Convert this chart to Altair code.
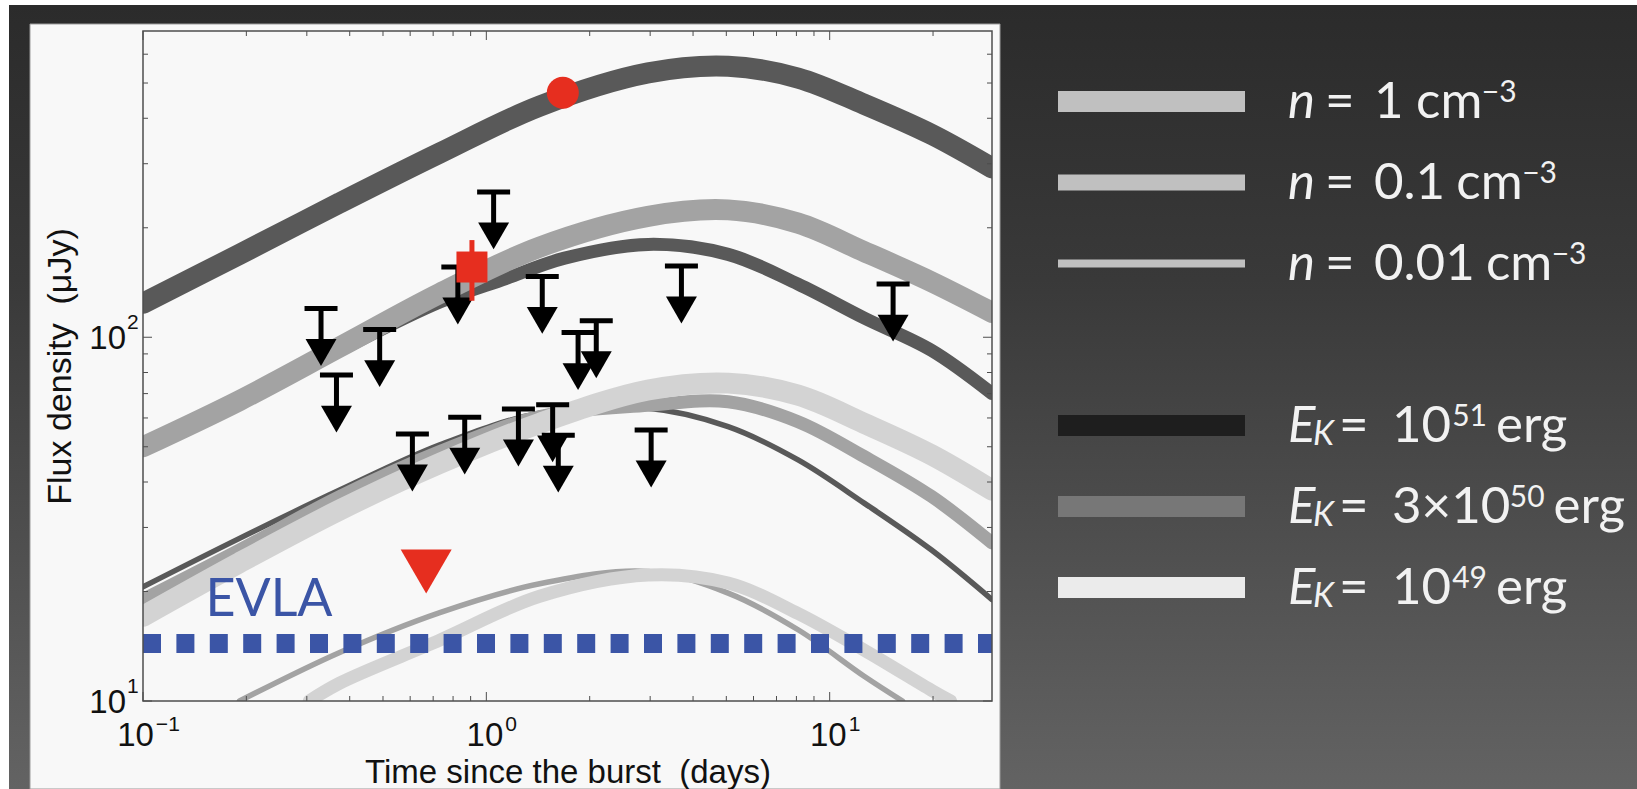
import altair as alt
import pandas as pd

# ------------------------------------------------------------------
# Radio afterglow models: flux density (μJy) vs time since burst (days)
# thickness -> circumburst density n, grey level -> kinetic energy E_K
# ------------------------------------------------------------------
t_grid = [0.1, 0.191, 0.374, 0.732, 1.43, 2.96, 5.06, 8.09, 12.6, 19.8, 29.7]

flux_n1_e51 = [124, 169, 234, 321, 432, 533, 556, 516, 437, 361, 292]
flux_n1_e3x50 = [50, 67, 94, 132, 177, 215, 224, 206, 172, 142, 117]
flux_n1_e49 = [17.1, 24, 33.5, 45, 58, 71.6, 74.8, 69.3, 58, 47.5, 38]

t_n01_e51 = [0.1, 0.191, 0.374, 0.732, 1.14, 1.69, 2.96, 5.06, 8.09, 12.6, 19.8, 29.7]
flux_n01_e51 = [49.5, 66, 92, 125, 145, 165, 180, 169, 140, 113, 92, 70]
flux_n01_e3x50 = [19, 26, 36.5, 48.5, 60.5, 65, 66.5, 58.6, 47, 36.5, 27.2]
t_n01_e49 = [0.305, 0.374, 0.732, 1.43, 2.96, 5.06, 8.09, 12.6, 19.8, 22.5]
flux_n01_e49 = [10, 11.2, 14.7, 19.4, 22.2, 21.1, 17.4, 13.8, 10.7, 10]

flux_n001_e51 = [20.6, 28, 38, 50.6, 61.8, 63.8, 56.8, 46, 35, 26, 19]
t_n001_e3x50 = [0.191, 0.374, 0.732, 1.43, 2.96, 5.06, 8.09, 12.6, 16.3]
flux_n001_e3x50 = [10, 13.6, 17.5, 21, 22.7, 19.8, 15.7, 11.7, 10]

# radio upper limits (3-sigma), days / μJy
limit_t = [0.330, 0.366, 0.489, 0.609, 0.826, 0.865, 1.05, 1.24, 1.455,
           1.56, 1.62, 1.85, 2.09, 3.02, 3.70, 15.3]
limit_f = [120, 78.7, 105, 54.2, 156, 60.3, 251, 63.5, 147,
           65.2, 53.8, 103, 111, 55.6, 157, 140]

# red points
circle_t, circle_f = [1.67], [470]
square_t, square_f, square_lo, square_hi = [0.908], [156], [126], [185]
red_limit_t, red_limit_f = [0.668], [22.7]

# EVLA sensitivity
evla_t = [0.1, 29.7]
evla_level = 14.4
evla_label_t, evla_label_f = 0.152, 17.1

# axes
x_domain = [0.1, 29.7]
y_domain = [10, 695]
x_major = [0.1, 1, 10]
x_major_exp = ["−1", "0", "1"]
x_minor = [0.2, 0.3, 0.4, 0.5, 0.6, 0.7, 0.8, 0.9, 2, 3, 4, 5, 6, 7, 8, 9, 20]
y_major = [10, 100]
y_major_exp = ["1", "2"]
y_minor = [20, 30, 40, 50, 60, 70, 80, 90, 200, 300, 400, 500, 600]

# legend
density_text = ["1", "0.1", "0.01"]
energy_mantissa = ["10", "3×10", "10"]
energy_exponent = ["51", "50", "49"]

# ------------------------------------------------------------------
# styling
# ------------------------------------------------------------------
DARK, MID, LIGHT = "#595959", "#a3a3a3", "#d3d3d3"
THICK, MEDIUM, THIN = 21, 13, 5.5
RED = "#e62e1f"
BLUE = "#3b55a6"
INK = "#111111"
AXIS_FONT = "Liberation Sans, Arial, sans-serif"
SLIDE_FONT = "Lato, Open Sans, sans-serif"
LABEL_SIZE, EXP_SIZE = 33, 21

W, H = 849, 670
PAD = {"left": 143, "top": 31, "right": 1637 - 143 - W, "bottom": 789 - 31 - H}

x_axis = alt.Axis(
    values=x_major, labels=False, ticks=False, tickSize=0, domain=False, grid=False,
    title="Time since the burst\u00a0 (days)", titleFont=AXIS_FONT,
    titleFontSize=33, titleFontWeight="normal", titleColor=INK,
    titleBaseline="alphabetic", titleY=81, zindex=1,
)
y_axis = alt.Axis(
    values=y_major, labels=False, ticks=False, tickSize=0, domain=False, grid=False,
    title="Flux density\u00a0 (μJy)", titleFont=AXIS_FONT,
    titleFontSize=34, titleFontWeight="normal", titleColor=INK,
    titleBaseline="alphabetic", titleAngle=270, titleX=-73, titleY=H / 2, zindex=1,
)

x_scale = alt.Scale(type="log", domain=x_domain, nice=False)
y_scale = alt.Scale(type="log", domain=y_domain, nice=False)


def X(field="t"):
    return alt.X(f"{field}:Q", scale=x_scale, axis=x_axis)


def Y(field="f"):
    return alt.Y(f"{field}:Q", scale=y_scale, axis=y_axis)


# ------------------------------------------------------------------
# model curves (thin ones first so the thick bands sit on top)
# ------------------------------------------------------------------
curves = [
    (t_grid, flux_n001_e51, DARK, THIN),
    (t_n001_e3x50, flux_n001_e3x50, MID, THIN),
    (t_n01_e51, flux_n01_e51, DARK, MEDIUM),
    (t_grid, flux_n01_e3x50, MID, MEDIUM),
    (t_n01_e49, flux_n01_e49, LIGHT, MEDIUM),
    (t_grid, flux_n1_e51, DARK, THICK),
    (t_grid, flux_n1_e3x50, MID, THICK),
    (t_grid, flux_n1_e49, LIGHT, THICK),
]
curve_layers = [
    alt.Chart(pd.DataFrame({"t": ts, "f": fs}))
    .mark_line(color=col, strokeWidth=w, interpolate="catmull-rom", clip=True, strokeCap="round")
    .encode(x=X(), y=Y())
    for ts, fs, col, w in curves
]

evla_line = (
    alt.Chart(pd.DataFrame({"t": [evla_t[0]], "t2": [evla_t[1]], "f": [evla_level]}))
    .mark_rule(color=BLUE, strokeWidth=19, strokeDash=[18, 15.4], strokeCap="butt")
    .encode(x=X(), x2=alt.X2("t2:Q"), y=Y())
)
evla_text = (
    alt.Chart(pd.DataFrame({"t": [evla_label_t], "f": [evla_label_f], "s": ["EVLA"]}))
    .mark_text(font=SLIDE_FONT, fontSize=52, color=BLUE, align="left", baseline="alphabetic")
    .encode(x=X(), y=Y(), text="s:N")
)

limits = pd.DataFrame({"t": limit_t, "f": limit_f})
limit_caps = alt.Chart(limits).mark_tick(
    orient="horizontal", size=33, thickness=5, color="black", opacity=1
).encode(x=X(), y=Y())
limit_shafts = alt.Chart(limits).mark_rule(
    color="black", strokeWidth=5, y2Offset=33
).encode(x=X(), y=Y(), y2=alt.Y2("f:Q"))
limit_heads = alt.Chart(limits).mark_point(
    shape="triangle-down", size=960, filled=True, color="black", opacity=1, yOffset=44
).encode(x=X(), y=Y())

red_limit = alt.Chart(pd.DataFrame({"t": red_limit_t, "f": red_limit_f})).mark_point(
    shape="triangle-down", size=2600, filled=True, color=RED, opacity=1
).encode(x=X(), y=Y())
square_err = alt.Chart(
    pd.DataFrame({"t": square_t, "lo": square_lo, "hi": square_hi})
).mark_rule(color=RED, strokeWidth=5).encode(x=X(), y=Y("lo"), y2=alt.Y2("hi:Q"))
square_pt = alt.Chart(pd.DataFrame({"t": square_t, "f": square_f})).mark_point(
    shape="square", size=960, filled=True, color=RED, opacity=1
).encode(x=X(), y=Y())
circle_pt = alt.Chart(pd.DataFrame({"t": circle_t, "f": circle_f})).mark_point(
    shape="circle", size=1024, filled=True, color=RED, opacity=1
).encode(x=X(), y=Y())

# inward pointing ticks on all four sides of the box
TICK_COLOR = "#4d4d4d"
tick_layers = []
for vals, length in ((x_minor, 5), (x_major, 9)):
    d = pd.DataFrame({"t": vals})
    tick_layers.append(alt.Chart(d).mark_rule(color=TICK_COLOR, strokeWidth=1)
                       .encode(x=X(), y=alt.value(H), y2=alt.value(H - length)))
    tick_layers.append(alt.Chart(d).mark_rule(color=TICK_COLOR, strokeWidth=1)
                       .encode(x=X(), y=alt.value(0), y2=alt.value(length)))
for vals, length in ((y_minor, 5), (y_major, 9)):
    d = pd.DataFrame({"f": vals})
    tick_layers.append(alt.Chart(d).mark_rule(color=TICK_COLOR, strokeWidth=1)
                       .encode(y=Y(), x=alt.value(0), x2=alt.value(length)))
    tick_layers.append(alt.Chart(d).mark_rule(color=TICK_COLOR, strokeWidth=1)
                       .encode(y=Y(), x=alt.value(W), x2=alt.value(W - length)))

# tick labels written as "10" plus a raised exponent
LIB_EM = {"−": 0.584}


def exp_width(s):
    return sum(LIB_EM.get(ch, 0.556) for ch in s) * EXP_SIZE


label_layers = []
for v, e in zip(x_major, x_major_exp):
    d = pd.DataFrame({"t": [v], "s": ["10"], "e": [e]})
    right = 17 - (exp_width(e) - exp_width("0")) / 2
    label_layers.append(alt.Chart(d).mark_text(
        font=AXIS_FONT, fontSize=LABEL_SIZE, color=INK, align="right",
        baseline="alphabetic", dx=right
    ).encode(x=X(), y=alt.value(H + 45), text="s:N"))
    label_layers.append(alt.Chart(d).mark_text(
        font=AXIS_FONT, fontSize=EXP_SIZE, color=INK, align="left",
        baseline="alphabetic", dx=right + 2
    ).encode(x=X(), y=alt.value(H + 30), text="e:N"))
for v, e in zip(y_major, y_major_exp):
    d = pd.DataFrame({"f": [v], "s": ["10"], "e": [e]})
    label_layers.append(alt.Chart(d).mark_text(
        font=AXIS_FONT, fontSize=LABEL_SIZE, color=INK, align="right",
        baseline="alphabetic", dy=11.5
    ).encode(y=Y(), x=alt.value(-17), text="s:N"))
    label_layers.append(alt.Chart(d).mark_text(
        font=AXIS_FONT, fontSize=EXP_SIZE, color=INK, align="left",
        baseline="alphabetic", dy=-8
    ).encode(y=Y(), x=alt.value(-16), text="e:N"))

plot = alt.layer(
    *curve_layers, evla_line, evla_text,
    limit_shafts, limit_caps, limit_heads,
    red_limit, square_err, square_pt, circle_pt,
    *tick_layers, *label_layers,
)

# ------------------------------------------------------------------
# slide background, panel and legend, placed in canvas pixels
# ------------------------------------------------------------------
PX = alt.Scale(domain=[0, 1637], range=[-PAD["left"], 1637 - PAD["left"]], nice=False, zero=False)
PY = alt.Scale(domain=[0, 789], range=[-PAD["top"], 789 - PAD["top"]], nice=False, zero=False)


def box(x0, x1, y0, y1):
    return pd.DataFrame({"x": [x0], "x2": [x1], "y": [y0], "y2": [y1]})


def box_enc(chart):
    return chart.encode(
        x=alt.X("x:Q", scale=PX, axis=None), x2="x2:Q",
        y=alt.Y("y:Q", scale=PY, axis=None), y2="y2:Q",
    )


slide_fill = alt.Gradient(
    gradient="linear",
    stops=[alt.GradientStop(color="#2b2b2b", offset=0),
           alt.GradientStop(color="#393939", offset=0.35),
           alt.GradientStop(color="#636363", offset=1)],
    x1=0, x2=0, y1=0, y2=1,
)
slide_bg = box_enc(alt.Chart(box(9, 1637, 5, 789)).mark_rect(fill=slide_fill))
panel = box_enc(alt.Chart(box(30, 1000, 24, 789)).mark_rect(
    fill="#f8f8f8", stroke="#9b9b9b", strokeWidth=1))
background = alt.layer(slide_bg, panel)

frame = box_enc(alt.Chart(box(PAD["left"], PAD["left"] + W, PAD["top"], PAD["top"] + H))
                .mark_rect(fillOpacity=0, stroke="#4d4d4d", strokeWidth=1.5))

# legend rows
ROW0, ROW_STEP = 101.5, 81
SW_X0, SW_X1 = 1058, 1245
SYM_X = 1288
MAIN, SUP, SUB = 51, 30, 34
LATO_EM = {" ": 0.193, "=": 0.58, ".": 0.21, "c": 0.44, "m": 0.83, "e": 0.53,
           "r": 0.36, "g": 0.5, "×": 0.55, "−": 0.58}


def width(s, size):
    return sum(LATO_EM.get(ch, 0.58) for ch in s) * size


sw_rows, pieces = [], []
density_heights = [21, 16, 8]
for i, val in enumerate(density_text):
    cy = ROW0 + ROW_STEP * i
    h = density_heights[i]
    sw_rows.append({"x": SW_X0, "x2": SW_X1, "y": cy - h / 2, "y2": cy + h / 2, "c": "#c0c0c0"})
    base = cy + 16
    vx = 1374
    ux = vx + width(val, MAIN) + 12.5
    pieces += [
        {"x": SYM_X, "y": base, "s": "n", "k": "sym"},
        {"x": 1325, "y": base, "s": "=", "k": "main"},
        {"x": vx, "y": base, "s": val, "k": "main"},
        {"x": ux, "y": base, "s": "cm", "k": "main"},
        {"x": ux + width("cm", MAIN) + 1, "y": base - 16, "s": "−3", "k": "sup"},
    ]
energy_colors = ["#1e1e1e", "#777777", "#ebebeb"]
for i, (man, ex) in enumerate(zip(energy_mantissa, energy_exponent)):
    cy = ROW0 + ROW_STEP * (i + 4)
    sw_rows.append({"x": SW_X0, "x2": SW_X1, "y": cy - 10.5, "y2": cy + 10.5, "c": energy_colors[i]})
    base = cy + 16
    vx = 1392
    sx = vx + width(man, MAIN) + 1
    pieces += [
        {"x": SYM_X, "y": base, "s": "E", "k": "sym"},
        {"x": 1313, "y": base + 3, "s": "K", "k": "sub"},
        {"x": 1339, "y": base, "s": "=", "k": "main"},
        {"x": vx, "y": base, "s": man, "k": "main"},
        {"x": sx, "y": base - 16, "s": ex, "k": "sup"},
        {"x": sx + width(ex, SUP) + 9, "y": base, "s": "erg", "k": "main"},
    ]

swatches = alt.Chart(pd.DataFrame(sw_rows)).mark_rect().encode(
    x=alt.X("x:Q", scale=PX, axis=None), x2="x2:Q",
    y=alt.Y("y:Q", scale=PY, axis=None), y2="y2:Q",
    color=alt.Color("c:N", scale=None),
)
pieces = pd.DataFrame(pieces)
text_styles = {
    "sym": dict(fontSize=MAIN, fontStyle="italic"),
    "sub": dict(fontSize=SUB, fontStyle="italic"),
    "main": dict(fontSize=MAIN),
    "sup": dict(fontSize=SUP),
}
legend_text = [
    alt.Chart(pieces[pieces.k == k]).mark_text(
        font=SLIDE_FONT, color="#f2f2f2", align="left", baseline="alphabetic", **style
    ).encode(
        x=alt.X("x:Q", scale=PX, axis=None),
        y=alt.Y("y:Q", scale=PY, axis=None),
        text="s:N",
    )
    for k, style in text_styles.items()
]
overlay = alt.layer(frame, swatches, *legend_text)

chart = (
    alt.layer(background, plot, overlay)
    .resolve_scale(x="independent", y="independent")
    .properties(width=W, height=H, padding=PAD, autosize=alt.AutoSizeParams(type="none"))
    .configure(background="white")
    .configure_view(strokeWidth=0)
)

chart.save("out.html", embed_options={"renderer": "svg", "actions": False})
